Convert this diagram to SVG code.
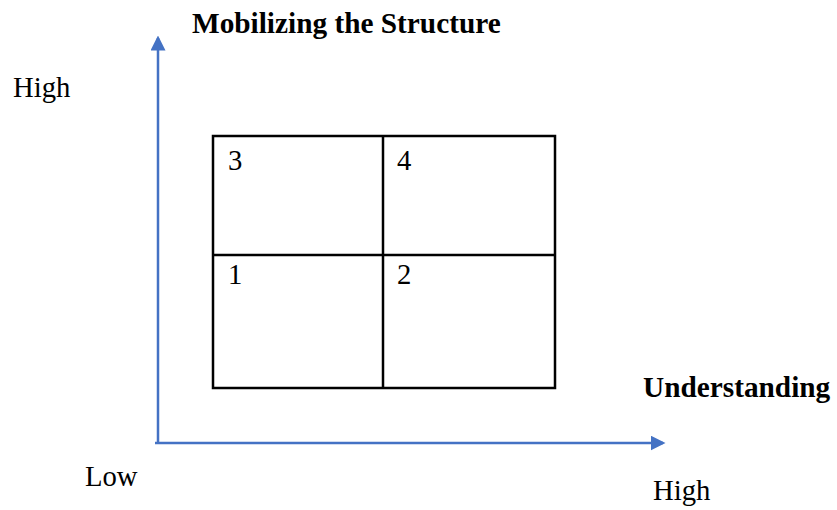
<svg xmlns="http://www.w3.org/2000/svg" width="837" height="510" viewBox="0 0 837 510">
<style>
text{font-family:"Liberation Serif","Times New Roman",serif;fill:#000;font-size:28.7px}
.b{font-weight:bold;font-size:29.3px}
.ax{stroke:#4472C4;stroke-width:2.5;fill:none}
.cell{fill:none;stroke:#000;stroke-width:2.5}
</style>
<defs>
<marker id="ah" markerWidth="6" markerHeight="6" refX="5" refY="3" orient="auto" markerUnits="strokeWidth">
<path d="M0,0 L6,3 L0,6 z" fill="#4472C4"/>
</marker>
</defs>
<g id="connectors">
<path class="ax" d="M158,443 L158,38" marker-end="url(#ah)"/>
<path class="ax" d="M155,443 L663,443" marker-end="url(#ah)"/>
</g>
<g id="grid">
<rect class="cell" x="213" y="136" width="342" height="252"/>
<line class="cell" x1="383" y1="136" x2="383" y2="388"/>
<line class="cell" x1="213" y1="255" x2="555" y2="255"/>
</g>
<g id="q3"><text x="228" y="170">3</text></g>
<g id="q4"><text x="397" y="170">4</text></g>
<g id="q1"><text x="228" y="284">1</text></g>
<g id="q2"><text x="397" y="284">2</text></g>
<g id="labels">
<text class="b" x="192" y="33">Mobilizing the Structure</text>
<text x="13" y="97">High</text>
<text class="b" x="643" y="397">Understanding</text>
<text x="85" y="486">Low</text>
<text x="653" y="500">High</text>
</g>
</svg>
